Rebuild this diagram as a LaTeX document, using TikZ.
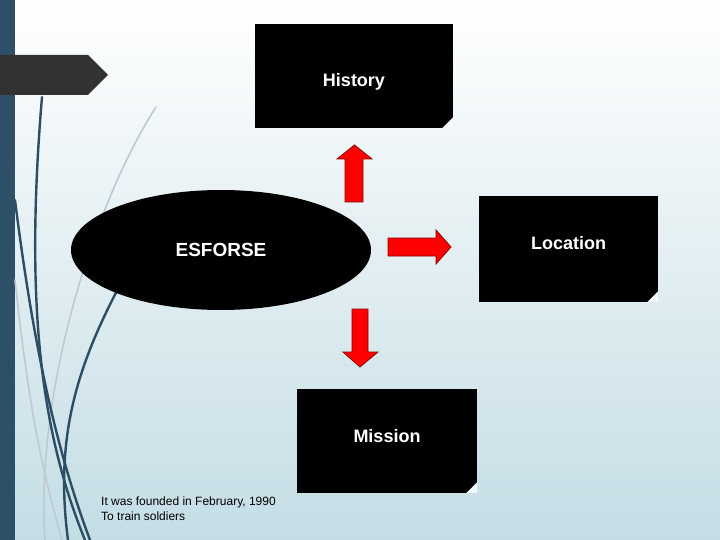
\documentclass[tikz,border=0pt]{standalone}
\usepackage{fontspec}
\setmainfont{Liberation Sans}
\usetikzlibrary{shapes.geometric}
\definecolor{bgtop}{RGB}{255,255,255}
\definecolor{bgbot}{RGB}{196,221,229}
\definecolor{barblue}{RGB}{45,80,104}
\definecolor{tabgray}{RGB}{50,50,50}
\definecolor{swoosh}{RGB}{44,78,100}
\definecolor{swooshlight}{RGB}{190,202,210}
\definecolor{arrowred}{RGB}{255,0,0}
\definecolor{arrowedge}{RGB}{140,0,0}
\tikzset{
  box/.style={rectangle, fill=black, inner sep=0pt},
  boxtext/.style={text=white, font=\fontsize{18}{20}\selectfont\bfseries},
  redarrow/.style={fill=arrowred, draw=arrowedge, line width=0.8pt, line join=miter},
  corner/.style={fill=white!80!bgbot}
}
\begin{document}
\begin{tikzpicture}[x=1pt,y=-1pt,line join=round,line cap=round]
  \useasboundingbox (0,0) rectangle (720,540);
  % background
  \shade[top color=bgtop, bottom color=bgbot] (0,0) rectangle (720,540);
  \fill[barblue] (0,0) rectangle (15,540);
  % swooshes
  \draw[swooshlight, line width=1.6pt] (156,107) .. controls (90,210) and (35,400) .. (45,540);
  \draw[swooshlight, line width=1.6pt] (15,280) .. controls (30,420) and (45,480) .. (62,540);
  \draw[swoosh, line width=2.4pt] (42,97) .. controls (25,300) and (40,430) .. (85,540);
  \draw[swoosh, line width=2.4pt] (15,200) .. controls (35,360) and (60,460) .. (90,540);
  \draw[swoosh, line width=2.4pt] (120,285) .. controls (75,370) and (55,440) .. (68,540);
  % tab
  \fill[tabgray] (0,55) -- (88,55) -- (108,75) -- (88,95) -- (0,95) -- cycle;
  % main ellipse
  \node[ellipse, fill=black, minimum width=300, minimum height=120, inner sep=0pt,
        text=white, font=\fontsize{19}{21}\selectfont\bfseries] (esforse) at (221,250) {ESFORSE};
  % boxes
  \node[box, minimum width=198, minimum height=104] (history) at (354,76) {};
  \node[box, minimum width=179, minimum height=106] (location) at (568.5,249) {};
  \node[box, minimum width=180, minimum height=104] (mission) at (387,441) {};
  \foreach \b in {history,location,mission}{
    \fill[corner] ([xshift=-11]\b.south east) -- ([yshift=11]\b.south east) -- (\b.south east) -- cycle;
  }
  \node[boxtext] (historytxt) at ([yshift=-6]history.center) {History};
  \node[boxtext] (locationtxt) at ([yshift=6]location.center) {Location};
  \node[boxtext] (missiontxt) at ([yshift=5]mission.center) {Mission};
  % red block arrows
  \draw[redarrow] (345,202) -- (345,159) -- (337,159) -- (354.5,145) -- (372,159) -- (363,159) -- (363,202) -- cycle;
  \draw[redarrow] (388,238) -- (436,238) -- (436,230) -- (451,247) -- (436,264) -- (436,256) -- (388,256) -- cycle;
  \draw[redarrow] (352,309) -- (368,309) -- (368,352) -- (378,352) -- (360,367) -- (343,352) -- (352,352) -- cycle;
  % note
  \node[anchor=north west, align=left, inner sep=0pt, font=\fontsize{12}{15}\selectfont] (note) at (101,497)
    {It was founded in February, 1990\\To train soldiers};
\end{tikzpicture}
\end{document}
